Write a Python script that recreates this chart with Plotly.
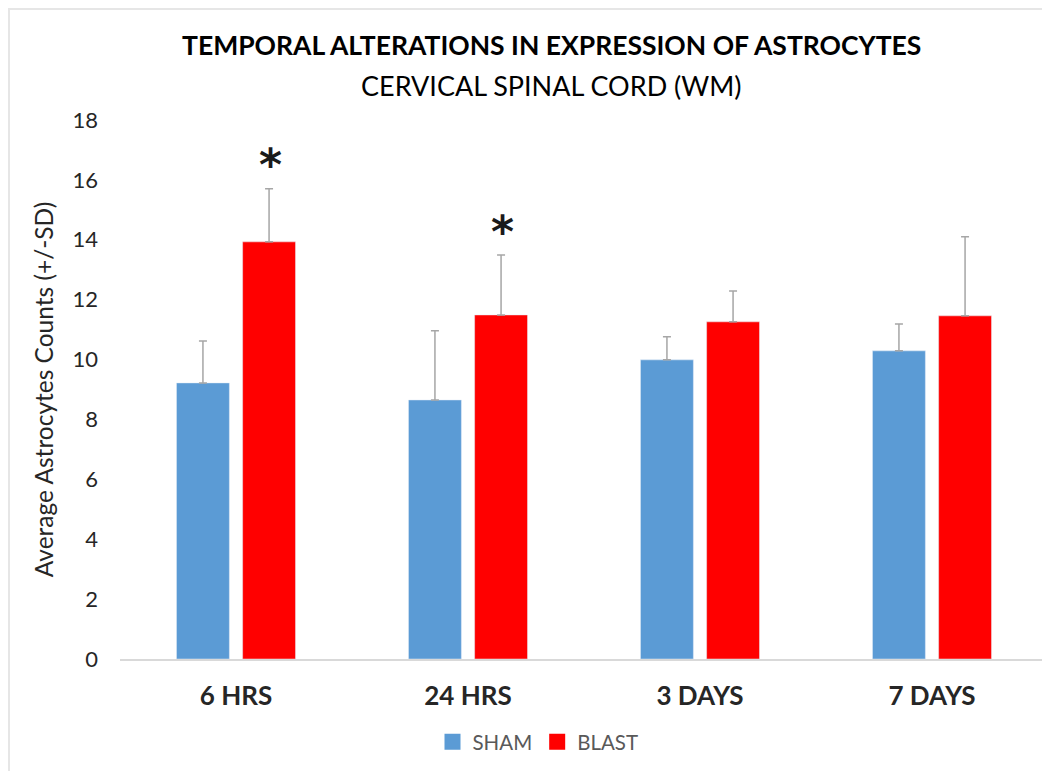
import plotly.graph_objects as go

categories = ["6 HRS", "24 HRS", "3 DAYS", "7 DAYS"]
sham_mean = [9.22, 8.65, 9.99, 10.29]
sham_sd = [1.40, 2.31, 0.77, 0.90]
blast_mean = [13.93, 11.49, 11.26, 11.46]
blast_sd = [1.77, 2.00, 1.03, 2.64]
significant = [True, True, False, False]

FONT = "Lato"
SHAM_COLOR = "#5B9BD5"
BLAST_COLOR = "#FF0000"
ERR_COLOR = "#A6A6A6"

# page offset of the figure (browser body margin) is 8px
PLOT_W, PLOT_H = 928, 539

fig = go.Figure()
fig.add_trace(go.Bar(
    name="SHAM", x=categories, y=sham_mean, marker_color=SHAM_COLOR, showlegend=False,
    error_y=dict(type="data", array=sham_sd, arrayminus=[0] * len(sham_sd),
                 symmetric=False, color=ERR_COLOR, thickness=1.5, width=4),
))
fig.add_trace(go.Bar(
    name="BLAST", x=categories, y=blast_mean, marker_color=BLAST_COLOR, showlegend=False,
    error_y=dict(type="data", array=blast_sd, arrayminus=[0] * len(blast_sd),
                 symmetric=False, color=ERR_COLOR, thickness=1.5, width=4),
))
# legend entries with larger square swatches
for name, color in [("SHAM", SHAM_COLOR), ("BLAST", BLAST_COLOR)]:
    fig.add_trace(go.Scatter(x=[None], y=[None], mode="markers", name=name,
                             marker=dict(symbol="square", size=18, color=color)))

for cat, m, sd, sig in zip(categories, blast_mean, blast_sd, significant):
    if sig:
        fig.add_annotation(x=cat, y=m + sd, xref="x", yref="y", text="<b>*</b>",
                           showarrow=False, xshift=34, yshift=24,
                           font=dict(family="DejaVu Sans", size=44, color="#1a1a1a"))

# Title and subtitle
fig.add_annotation(text="<b>TEMPORAL ALTERATIONS IN EXPRESSION OF ASTROCYTES</b>",
                   xref="paper", yref="paper", x=(551 - 120) / PLOT_W, y=(659 - 45) / PLOT_H,
                   xanchor="center", yanchor="middle", showarrow=False,
                   font=dict(family=FONT, size=26.5, color="#000000"))
fig.add_annotation(text="CERVICAL SPINAL CORD (WM)",
                   xref="paper", yref="paper", x=(551 - 120) / PLOT_W, y=(659 - 85) / PLOT_H,
                   xanchor="center", yanchor="middle", showarrow=False,
                   font=dict(family=FONT, size=27, color="#000000"))

fig.update_layout(
    width=1042, height=763,
    paper_bgcolor="white", plot_bgcolor="white",
    barmode="group", bargap=0.43, bargroupgap=0.2,
    margin=dict(l=112, r=2, t=112, b=112, autoexpand=False),
    font=dict(family=FONT, color="#404040"),
    showlegend=True,
    legend=dict(orientation="h", x=(538 - 120) / PLOT_W, xanchor="center",
                y=-(742 - 659) / PLOT_H, yanchor="middle",
                font=dict(family=FONT, size=20.5, color="#595959"), itemwidth=30,
                traceorder="normal"),
    xaxis=dict(showline=True, linecolor="#D9D9D9", linewidth=1.5, showgrid=False,
               tickfont=dict(family=FONT, size=26, color="#262626", weight="bold"),
               ticks="", ticklabelstandoff=13, automargin=False),
    yaxis=dict(range=[0, 18], dtick=2, showgrid=False, zeroline=False, showline=False,
               tickfont=dict(family=FONT, size=22, color="#262626"),
               ticklabelstandoff=21, automargin=False,
               title=dict(text="Average Astrocytes Counts (+/-SD)",
                          font=dict(family=FONT, size=24.5, color="#262626"), standoff=11)),
)

fig.add_shape(type="rect", xref="paper", yref="paper",
              x0=-111 / PLOT_W, x1=1.05, y0=-0.3, y1=1 + 111 / PLOT_H,
              line=dict(color="#E6E6E6", width=2), layer="below")

fig.write_html("out.html")
